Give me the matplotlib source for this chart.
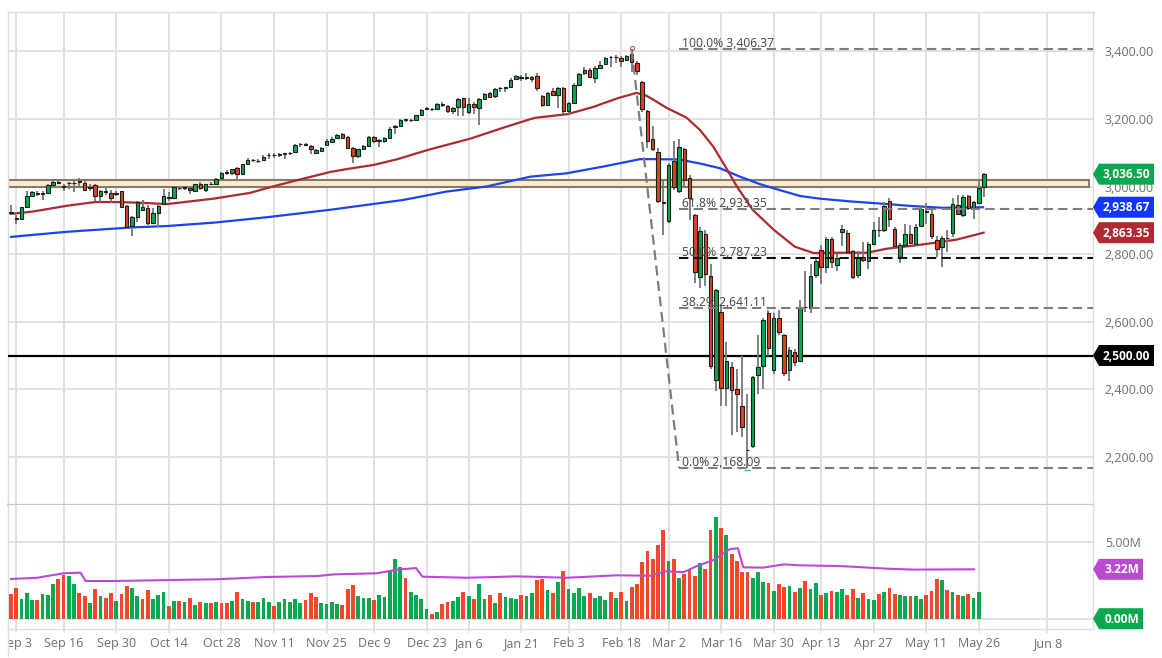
import matplotlib
matplotlib.use("Agg")
import matplotlib.pyplot as plt
from matplotlib.patches import Polygon
from matplotlib.lines import Line2D
from matplotlib.transforms import Bbox, IdentityTransform

plt.rcParams['font.family'] = ['Open Sans', 'DejaVu Sans']

W, H = 1162, 658

# candles, oldest first
opens = [2925,2906,2903,2939,2973,2980,2980,2980,3004,3012,
         3001,3009,3011,3014,3011,2998,3003,2971,2986,2981,
         2979,2986,2943,2883,2911,2930,2935,2893,2921,2949,
         2967,2967,2996,2997,2997,2986,3008,2991,3008,3006,
         3024,3041,3039,3054,3038,3068,3078,3076,3078,3093,
         3093,3094,3097,3099,3101,3125,3125,3119,3099,3106,
         3122,3133,3144,3154,3146,3115,3091,3110,3120,3146,
         3137,3135,3143,3177,3179,3198,3197,3198,3212,3230,
         3228,3228,3243,3238,3222,3236,3261,3220,3244,3232,
         3260,3277,3267,3290,3292,3294,3318,3325,3323,3318,
         3327,3269,3240,3282,3272,3292,3223,3246,3300,3336,
         3346,3322,3351,3361,3382,3383,3381,3374,3392,3366,
         3310,3223,3140,3101,2955,2899,3076,2988,3111,3024,
         2916,2732,2860,2736,2429,2630,2405,2466,2401,2350,
         2221,2232,2441,2470,2627,2458,2612,2561,2458,2511,
         2484,2644,2640,2737,2813,2762,2845,2769,2865,2863,
         2809,2739,2792,2779,2830,2871,2872,2958,2873,2791,
         2827,2859,2831,2882,2927,2920,2841,2821,2849,2861,
         2946,2915,2973,2937,2951,2998]
closes = [2922,2904,2939,2973,2983,2979,2979,3004,3014,3009,
          3000,3010,3010,3015,2991,2997,2971,2988,2985,2966,
          2980,2939,2879,2911,2953,2939,2891,2921,2943,2971,
          2968,2999,2995,2998,2991,3006,2996,3006,3007,3022,
          3039,3042,3051,3038,3066,3079,3077,3075,3088,3094,
          3094,3095,3098,3100,3122,3126,3124,3111,3107,3114,
          3136,3142,3153,3144,3115,3091,3110,3120,3146,3135,
          3136,3143,3169,3178,3198,3199,3198,3211,3226,3231,
          3229,3245,3242,3223,3231,3259,3236,3244,3234,3260,
          3275,3265,3289,3291,3293,3316,3326,3320,3322,3325,
          3292,3240,3278,3272,3290,3223,3246,3300,3334,3346,
          3325,3352,3359,3381,3383,3384,3371,3387,3369,3341,
          3228,3135,3110,2958,2952,3065,2998,3116,3019,2965,
          2747,2867,2740,2468,2695,2405,2484,2399,2387,2287,
          2220,2437,2466,2606,2523,2610,2569,2447,2515,2482,
          2644,2643,2734,2779,2762,2845,2777,2789,2873,2807,
          2733,2792,2782,2831,2872,2870,2942,2904,2823,2826,
          2859,2834,2880,2932,2926,2855,2815,2848,2848,2948,
          2920,2969,2937,2953,2996,3037]
highs = [2946,2916,2939,2988,2986,2987,2987,3006,3022,3020,
         3006,3014,3021,3026,3021,3006,3006,2990,2996,2990,
         2988,2988,2945,2913,2958,2960,2945,2935,2945,2993,
         2985,3001,2998,3000,3000,3008,3012,3008,3012,3024,
         3042,3048,3053,3058,3068,3083,3082,3080,3094,3098,
         3098,3099,3100,3103,3126,3130,3130,3122,3110,3117,
         3141,3145,3156,3157,3148,3118,3112,3123,3150,3150,
         3142,3146,3175,3182,3200,3200,3200,3213,3230,3234,
         3232,3248,3250,3242,3235,3261,3263,3262,3250,3262,
         3278,3280,3290,3294,3295,3320,3330,3330,3335,3328,
         3335,3271,3280,3290,3295,3295,3250,3305,3337,3355,
         3352,3356,3370,3383,3386,3388,3385,3390,3406.37,3370,
         3312,3225,3178,3115,3020,3070,3135,3140,3115,3035,
         2920,2880,2870,2770,2697,2650,2540,2480,2460,2500,
         2385,2440,2560,2611,2635,2625,2635,2565,2525,2518,
         2665,2750,2770,2790,2828,2850,2850,2800,2885,2870,
         2812,2810,2835,2835,2895,2910,2955,2965,2880,2832,
         2888,2885,2890,2945,2950,2935,2855,2855,2870,2965,
         2975,2975,2976,2957,3020,3040]
lows = [2916,2889,2903,2939,2970,2973,2959,2978,3000,3008,
        2986,2993,2984,2996,2988,2986,2957,2955,2976,2950,
        2971,2939,2875,2855,2895,2928,2885,2888,2880,2949,
        2958,2965,2990,2990,2978,2985,2990,2985,3004,3004,
        3020,3035,3035,3022,3036,3066,3072,3070,3076,3080,
        3083,3088,3080,3092,3100,3118,3120,3095,3095,3103,
        3120,3130,3142,3140,3113,3070,3085,3108,3118,3130,
        3118,3128,3140,3155,3175,3190,3192,3195,3210,3225,
        3222,3225,3235,3218,3215,3210,3208,3215,3215,3183,
        3258,3262,3263,3280,3280,3292,3315,3313,3315,3310,
        3283,3235,3238,3268,3232,3215,3215,3244,3298,3330,
        3320,3305,3348,3359,3353,3365,3355,3370,3340,3330,
        3220,3115,3105,2950,2857,2893,2990,2980,3000,2900,
        2715,2700,2705,2460,2395,2350,2350,2264,2275,2260,
        2168.09,2225,2385,2402,2500,2445,2560,2440,2425,2470,
        2480,2630,2625,2730,2713,2745,2760,2750,2825,2800,
        2725,2730,2778,2755,2826,2850,2865,2880,2815,2775,
        2825,2830,2825,2880,2890,2845,2790,2763,2805,2850,
        2915,2910,2930,2905,2948,2968]

# volume in millions, R = down bar, G = up bar
volumes = [1.61,2.00,1.28,1.70,1.22,1.22,1.59,1.54,2.24,2.59,
           2.85,2.78,2.24,1.67,1.46,1.02,1.93,1.48,1.33,1.65,
           1.15,1.61,2.13,2.02,1.48,1.26,1.87,1.30,1.57,1.74,
           0.83,1.17,1.15,1.11,1.33,0.89,1.11,1.04,1.04,1.09,
           1.04,1.02,1.17,1.76,1.28,1.17,1.11,1.07,1.35,1.07,
           0.83,1.09,1.26,1.11,1.26,1.02,1.20,1.70,1.43,1.00,
           0.96,1.07,0.93,0.89,1.93,2.17,1.50,1.33,1.33,1.22,
           1.54,1.41,3.17,3.87,3.39,2.63,1.74,1.54,1.28,0.63,
           0.28,0.43,0.96,1.09,1.15,1.39,1.74,1.48,1.28,2.26,
           1.28,1.52,1.00,1.65,1.43,1.33,1.28,1.54,1.48,1.70,
           2.50,2.57,1.87,1.65,2.39,3.13,1.91,1.67,2.02,1.46,
           1.67,1.37,1.46,1.22,1.76,1.33,1.74,1.15,2.04,2.26,
           3.67,4.41,3.89,4.78,5.76,3.74,3.87,2.67,2.91,3.24,
           2.80,3.61,3.22,5.76,6.63,5.89,5.46,4.22,3.74,3.07,
           3.07,2.63,3.02,2.39,2.30,1.83,2.24,2.09,2.13,1.76,
           2.02,2.48,1.91,2.33,1.54,1.70,1.80,1.74,1.91,1.54,
           1.93,1.35,1.67,1.28,1.22,1.61,1.72,2.00,1.63,1.52,
           1.48,1.46,1.48,1.30,1.52,1.80,2.59,2.50,1.89,1.76,
           1.54,1.50,1.59,1.35,1.74]
volume_dirs = ("RRGGGRGGGR" "RGGRRGRGRR" "GRRGGRRGGG" "RGRGRGRGRG"
               "RRGRGGRGGG" "RGGGGGRRRG" "GGGRRRGGGR" "GGGGGRGGGG"
               "RGRRGGRGRG" "GRGRGGGRGG" "RRGRGRGGGG" "RGGGRGRGRR"
               "RRRRRGRGRR" "RGRRGRGRRR" "RGGGRGRRGR" "GRGGRGRGGR"
               "RGRGGRGRRG" "GRGGRRRGRG" "RGRGG")

# moving averages at these bars
red_ma_x = [0,4.2,10.6,16,20.7,25.8,29.6,38.5,45.4,50,55,60.7,64,69,73.5,79.2,87.4,93.8,
            99.5,105.8,110.8,115.3,118.9,120.6,122,124.6,128.4,131,133.5,136,138,141,
            145,149,152.6,157,162.7,166.5,171.5,175.4,179.8,184.9]
red_ma_y = [2919,2926,2943,2954,2954,2951,2948,2964,2981,3001,3021,3043,3052,3064,3081,3108,3142,3175,
            3203,3214,3236,3261,3277,3270,3258,3233,3204,3167,3118,3054,3000,2931,
            2872,2822,2803,2804,2804,2816,2825,2833,2843,2863.35]
blue_ma_x = [0,10.6,23,29.6,38.5,48.6,60.6,74.5,82.8,90.4,98.7,105.6,112.6,119.6,122,127,131,
             134.8,138.6,142.4,146,150,153.8,159.5,165.8,171.5,177.2,184.8]
blue_ma_y = [2851,2866,2879,2883,2893,2909,2931,2960,2985,3000,3029,3039,3059,3081,3081,3080,3068,
             3054,3029,3007,2990,2972,2964,2956,2949,2942,2937,2938.67]
vol_ma_x = [0,5,10,13.2,14.2,20.2,29.7,39.2,48.7,58.2,61.4,69.6,73.4,77,78.2,86.7,96.2,105.7,115.2,
            121.5,124.4,127.9,130.4,133.6,136.7,138.2,139.2,143,146.9,150,157.7,166.6,171.7,183.1]
vol_ma_y = [2.59,2.67,2.96,3.00,2.46,2.46,2.52,2.57,2.72,2.78,2.89,2.96,3.20,3.30,2.74,2.67,2.76,2.67,2.83,
            2.80,3.09,3.04,3.43,3.83,4.54,4.59,3.35,3.33,3.54,3.48,3.43,3.26,3.20,3.22]

# x ticks sit on these bars
date_pos = [1,10,20,30,40,50,60,69,79,87,97,106,116,125,135,145,154,164,174,184,197]
date_labels = ["Sep 3","Sep 16","Sep 30","Oct 14","Oct 28","Nov 11","Nov 25","Dec 9","Dec 23",
               "Jan 6","Jan 21","Feb 3","Feb 18","Mar 2","Mar 16","Mar 30","Apr 13","Apr 27",
               "May 11","May 26","Jun 8"]

price_ticks = [2200,2400,2600,2800,3000,3200,3400]
vol_ticks = [0,5]

fib_levels = [3406.37,2933.35,2787.23,2641.11,2168.09]
fib_pcts = ["100.0%","61.8%","50.0%","38.2%","0.0%"]
fib_leg_x = [118,127]
fib_start = 127
zone_low, zone_high = 3000,3020
support = 2500
last_price = 3036.50
red_last = 2863.35
blue_last = 2938.67
vol_avg_last = 3.22

GREEN = "#0aa84f"
RED = "#e2401f"
GRID = "#e2e2e2"
TICKTXT = "#6e6e6e"

fig = plt.figure(figsize=(W/100,H/100),dpi=100,facecolor="white")

def add_ax(left,top,right,bottom):
    return fig.add_axes([left/W,1-bottom/H,(right-left)/W,(bottom-top)/H])

ax = add_ax(8,12,1093,505)
ax_v = add_ax(8,505,1093,629)
xlim = (-0.57,205.7)

for a in (ax,ax_v):
    a.set_xlim(*xlim)
    a.set_xticks(date_pos)
    a.grid(True,color=GRID,lw=1.4)
    a.set_axisbelow(True)
    a.yaxis.tick_right()
    for s in a.spines.values():
        s.set_color("#dddddd")
        s.set_linewidth(1)

ax.set_ylim(2057.7,3516.3)
ax.set_yticks(price_ticks)
ax.set_yticklabels([f"{p:,.2f}" for p in price_ticks],fontsize=9,color=TICKTXT)
ax.tick_params(axis='y',length=0,pad=8.5)
ax.tick_params(axis='x',length=0,labelbottom=False)
ax.spines['bottom'].set_color("#c8c8c8")
ax.spines['bottom'].set_linewidth(1.6)

ax_v.set_ylim(-0.67,7.41)
ax_v.set_yticks(vol_ticks)
# the 0.00M label sits under its tag in the original, only the tag shows
ax_v.set_yticklabels(["" if v==0 else f"{v:.2f}M" for v in vol_ticks],fontsize=9,color=TICKTXT)
ax_v.tick_params(axis='y',length=0,pad=8.5)
ax_v.spines['top'].set_visible(False)
ax_v.set_xticklabels(date_labels,fontsize=9,color=TICKTXT)
ax_v.tick_params(axis='x',length=3,width=1.2,color=GRID,pad=3)
# first label runs off the left edge in the original
first = ax_v.get_xticklabels()[0]
first.set_clip_on(True)
first.set_clip_box(Bbox([[8,0],[W,H]]))

fig.add_artist(Line2D([8/W,8/W],[1-629/H,1-656/H],color="#dddddd",lw=1))

# resistance zone, stops a little short of the price axis
ax.barh((zone_low+zone_high)/2,xlim[1]-xlim[0]-0.76,left=xlim[0],height=zone_high-zone_low,
        color="#fdebd0",edgecolor="#857a6c",lw=1.5,zorder=2)

ax.axhline(support,color="black",lw=1.6,zorder=4)

ax.plot(blue_ma_x,blue_ma_y,color="#1a44ee",lw=1.6,zorder=3)
ax.plot(red_ma_x,red_ma_y,color="#ad2a30",lw=1.6,zorder=3)

# candles
xs = list(range(len(opens)))
ax.vlines(xs,lows,highs,color="#777777",lw=1.3,zorder=5)
candle_cols = [GREEN if c>=o else RED for o,c in zip(opens,closes)]
ax.bar(xs,[c-o for o,c in zip(opens,closes)],bottom=opens,width=0.66,color=candle_cols,
       edgecolor="#1e1e1e",lw=0.8,zorder=6)

# fib levels and the dashed leg
for lvl,pct in zip(fib_levels,fib_pcts):
    col = "#111111" if pct=="50.0%" else "#7d7d7d"
    ax.plot([fib_start,xlim[1]],[lvl,lvl],color=col,lw=1.5,ls=(0,(4.5,2.5)),zorder=7)
    ax.text(fib_start+0.55,lvl-3,f"{pct} {lvl:,.2f}",fontsize=8.7,color="#444444",va='bottom',ha='left',zorder=8)
ax.plot(fib_leg_x,[fib_levels[0],fib_levels[-1]],color="#7d7d7d",lw=1.6,ls=(0,(4.5,2.5)),zorder=7)
ax.plot([118],[fib_levels[0]+4],'o',ms=3,mfc="none",mec="#e2401f",mew=0.7,zorder=8)
ax.plot([140],[fib_levels[-1]-6],'_',ms=4,mec="#2fc46d",mew=1,zorder=8)

# volume
xv = list(range(len(volumes)))
ax_v.bar(xv,volumes,width=0.72,color=[GREEN if d=="G" else "#f4462a" for d in volume_dirs],zorder=3)
ax_v.plot(vol_ma_x,vol_ma_y,color="#ba4bd0",lw=1.5,zorder=4)

# price tags on the right axis
def tag(axis,value,text,color,width):
    y = axis.transData.transform((0,value))[1]
    x0 = axis.transAxes.transform((1,0))[0]
    h = 10.5
    pts = [(x0,y),(x0+6,y+h),(x0+width,y+h),(x0+width,y-h),(x0+6,y-h)]
    fig.add_artist(Polygon(pts,closed=True,facecolor=color,edgecolor="none",transform=IdentityTransform()))
    fig.add_artist(plt.Text(x0+width-4,y-0.5,text,color="white",fontsize=8.6,fontweight="bold",
                            ha='right',va='center',transform=IdentityTransform()))

tag(ax,last_price,f"{last_price:,.2f}",GREEN,61)
tag(ax,blue_last,f"{blue_last:,.2f}","#1236ff",61)
tag(ax,red_last,f"{red_last:,.2f}","#ae2a30",61)
tag(ax,support,f"{support:,.2f}","black",61)
tag(ax_v,vol_avg_last,f"{vol_avg_last:.2f}M","#ba4bd0",50)
tag(ax_v,0,"0.00M",GREEN,50)

fig.savefig("out.png",dpi=100)
